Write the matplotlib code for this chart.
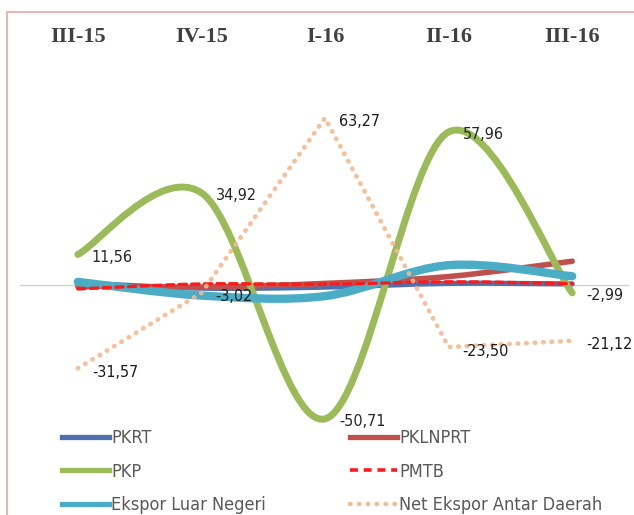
import numpy as np
import matplotlib
matplotlib.use('Agg')
import matplotlib.pyplot as plt
from matplotlib.path import Path
from matplotlib.patches import PathPatch, Rectangle
from matplotlib.lines import Line2D

quarters = ['III-15', 'IV-15', 'I-16', 'II-16', 'III-16']

pkrt = [0.8, -1.2, -0.8, 0.6, 0.4]
pklnprt = [-0.5, -0.8, 0.6, 3.2, 9.0]
pkp = [11.56, 34.92, -50.71, 57.96, -2.99]
pmtb = [-1.5, 0.4, 0.3, 1.2, 0.5]
ekspor_ln = [1.2, -4.0, -4.2, 7.5, 3.3]
net_ekspor = [-31.57, -3.02, 63.27, -23.50, -21.12]

pkp_labels = ['11,56', '34,92', '-50,71', '57,96', '-2,99']
net_labels = ['-31,57', '-3,02', '63,27', '-23,50', '-21,12']

narrow = ['DejaVu Sans']


def smooth_path(ys):
    # Excel-style smoothed line: cubic bezier segments through every point
    xs = np.arange(len(ys), dtype=float)
    pts = np.column_stack([xs, np.asarray(ys, dtype=float)])
    ext = np.vstack([pts[0], pts, pts[-1]])
    verts = [pts[0]]
    codes = [Path.MOVETO]
    for i in range(len(pts) - 1):
        p0, p1, p2, p3 = ext[i], ext[i + 1], ext[i + 2], ext[i + 3]
        verts += [p1 + (p2 - p0) / 6, p2 - (p3 - p1) / 6, p2]
        codes += [Path.CURVE4] * 3
    return Path(verts, codes)


def smooth_line(ax, ys, color, lw, z, ls='-'):
    patch = PathPatch(smooth_path(ys), fill=False, edgecolor=color, lw=lw,
                      ls=ls, capstyle='round', joinstyle='round', zorder=z)
    ax.add_patch(patch)


fig = plt.figure(figsize=(6.34, 5.15), dpi=100)

# frame round the chart area
fig.patches.append(Rectangle((7 / 634, -0.1), 2, (515 - 12) / 515 + 0.1,
                             transform=fig.transFigure, fill=False,
                             edgecolor='#E9A7A7', lw=1.2))

ax = fig.add_axes([16 / 634, 0, 618 / 634, 1])
ax.set_xlim(-0.5, 4.5)
ax.set_ylim(-230 / 2.64, 285 / 2.64)
ax.axis('off')
ax.axhline(0, xmin=0.006, xmax=0.99, color='#D0D0D0', lw=1, zorder=1)

x = np.arange(len(quarters))

smooth_line(ax, pkrt, '#4F6FAD', 3.8, 2)
smooth_line(ax, pklnprt, '#C0504D', 4, 3)
smooth_line(ax, pkp, '#9BBB59', 5, 4)
smooth_line(ax, ekspor_ln, '#4BACC6', 6, 5)
smooth_line(ax, pmtb, '#FF1A1A', 2.4, 6, ls=(0, (2.2, 1.6)))
ax.plot(x, net_ekspor, color='#F6B98F', lw=3.4, ls=(0, (0.1, 1.7)),
        dash_capstyle='round', alpha=0.9, zorder=7)

lab_kw = dict(textcoords='offset pixels', ha='left', va='center',
              fontsize=11.5, family=narrow, fontstretch='condensed', zorder=9)
for xi, v, s in zip(x, pkp, pkp_labels):
    ax.annotate(s, (xi, v), xytext=(14, -3), color='#262626', **lab_kw)
for xi, v, s in zip(x, net_ekspor, net_labels):
    ax.annotate(s, (xi, v), xytext=(14, -4), color='#1a1a1a', **lab_kw)

for xi, q in zip(x, quarters):
    ax.text(xi, (515 - 37) / 515, q, transform=ax.get_xaxis_transform(),
            ha='center', va='center', fontsize=16, fontweight='bold',
            family=['Liberation Serif', 'DejaVu Serif'], color='#404040')

handles_left = [
    Line2D([], [], color='#4F6FAD', lw=3.8),
    Line2D([], [], color='#9BBB59', lw=3.8),
    Line2D([], [], color='#4BACC6', lw=3.8),
]
handles_right = [
    Line2D([], [], color='#C0504D', lw=3.8),
    Line2D([], [], color='#FF1A1A', lw=2.6, ls=(0, (2.2, 1.6))),
    Line2D([], [], color='#F6B98F', lw=3.2, ls=(0, (0.1, 1.9)),
           dash_capstyle='round'),
]
leg_kw = dict(loc='upper left', frameon=False, borderpad=0, borderaxespad=0,
              handlelength=2.6, handletextpad=0.12, labelspacing=0.86,
              prop={'family': narrow, 'size': 13, 'stretch': 'condensed'},
              labelcolor='#595959')
fig.legend(handles_left, ['PKRT', 'PKP', 'Ekspor Luar Negeri'],
           bbox_to_anchor=(62 / 634, 0.167), **leg_kw)
fig.legend(handles_right, ['PKLNPRT', 'PMTB', 'Net Ekspor Antar Daerah'],
           bbox_to_anchor=(350 / 634, 0.167), **leg_kw)

fig.savefig('out.png', dpi=100)
